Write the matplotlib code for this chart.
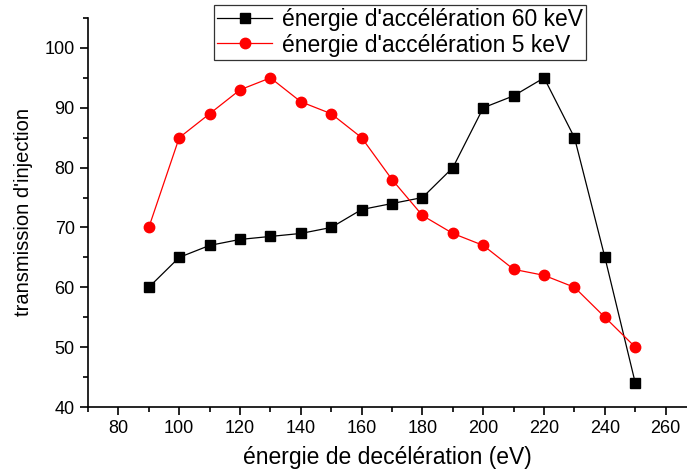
import matplotlib.pyplot as plt
from matplotlib.ticker import MultipleLocator

plt.rcParams["font.family"] = ["Liberation Sans", "DejaVu Sans"]

decel = [90, 100, 110, 120, 130, 140, 150, 160, 170, 180, 190, 200, 210, 220, 230, 240, 250]
trans_60kev = [60, 65, 67, 68, 68.5, 69, 70, 73, 74, 75, 80, 90, 92, 95, 85, 65, 44]
trans_5kev = [70, 85, 89, 93, 95, 91, 89, 85, 78, 72, 69, 67, 63, 62, 60, 55, 50]

fig = plt.figure(figsize=(6.87, 4.70), dpi=100)
ax = fig.add_axes([88 / 687, 63 / 470, 599 / 687, 389 / 470])

ax.plot(decel, trans_60kev, color="black", lw=0.9, marker="s", ms=6.5,
        label="énergie d'accélération 60 keV")
ax.plot(decel, trans_5kev, color="red", lw=0.9, marker="o", ms=7.5,
        label="énergie d'accélération 5 keV")

ax.set_xlim(70, 267)
ax.set_ylim(40, 105)
ax.xaxis.set_major_locator(MultipleLocator(20))
ax.xaxis.set_minor_locator(MultipleLocator(10))
ax.yaxis.set_major_locator(MultipleLocator(10))
ax.yaxis.set_minor_locator(MultipleLocator(5))
ax.spines["top"].set_visible(False)
ax.spines["right"].set_visible(False)
ax.tick_params(which="major", direction="out", length=6, width=1.2, labelsize=13)
ax.tick_params(which="minor", direction="out", length=3.5, width=1.2)
ax.spines["left"].set_linewidth(1.2)
ax.spines["bottom"].set_linewidth(1.2)

ax.set_xlabel("énergie de decélération (eV)", fontsize=16.5, labelpad=6)
ax.set_ylabel("transmission d'injection", fontsize=14.5, labelpad=8)

leg = ax.legend(loc="upper left", bbox_to_anchor=(126 / 599, 1.034), borderaxespad=0,
                fontsize=16.5, frameon=True, fancybox=False, edgecolor="black",
                handlelength=2.4, handletextpad=0.4, borderpad=0.15, labelspacing=0.1)
leg.get_frame().set_linewidth(0.9)

fig.savefig("out.png", dpi=100)
